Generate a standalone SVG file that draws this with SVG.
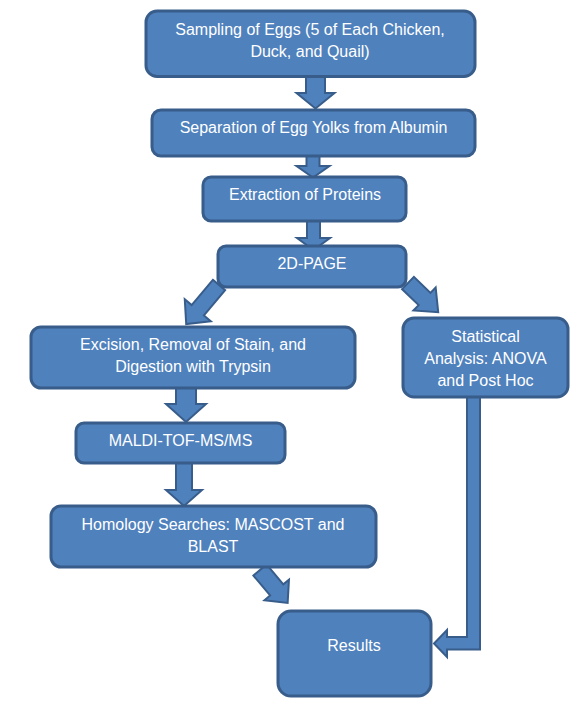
<svg xmlns="http://www.w3.org/2000/svg" width="583" height="705" viewBox="0 0 583 705">
<style>
.box{fill:#4F81BD;stroke:#385D8A;stroke-width:3}
.arr{fill:#4F81BD;stroke:#385D8A;stroke-width:2;stroke-linejoin:miter}
text{font-family:"Liberation Sans",Arial,sans-serif;font-size:16px;fill:#FFFFFF;text-anchor:middle}
</style>
<defs>
<polygon id="diagL" points="-8,0 8,0 8,33 17,33 0,51 -17,33 -8,33"/>
</defs>
<rect width="583" height="705" fill="#FFFFFF"/>
<g id="connectors">
<polygon class="arr" points="306,76 325,76 325,93 334.5,93 315.5,108.5 296.5,93 306,93"/>
<polygon class="arr" points="306.5,155 319.5,155 319.5,166 329.5,166 313,177.5 296.5,166 306.5,166"/>
<polygon class="arr" points="307,221 320,221 320,238 330,238 313.5,250 297,238 307,238"/>
<polygon class="arr" transform="translate(219,285) rotate(40)" points="-8,0 8,0 8,33 17,33 0,51 -17,33 -8,33"/>
<polygon class="arr" transform="translate(408,283) rotate(-46)" points="-8.5,0 8.5,0 8.5,23 16,23 0,42 -16,23 -8.5,23"/>
<polygon class="arr" points="176,388 196,388 196,404 206,404 186,422 166,404 176,404"/>
<polygon class="arr" points="176,463 192,463 192,490 202,490 184,506 166,490 176,490"/>
<polygon class="arr" transform="translate(260,570) rotate(-40)" points="-8.6,0 8.6,0 8.6,26 16,26 0,43 -16,26 -8.6,26"/>
<polygon class="arr" points="467,397 480,397 480,649.5 447,649.5 447,657 434,643.5 447,630 447,637 467,637"/>
</g>
<g id="n1">
<rect class="box" x="146" y="11" width="329" height="65.5" rx="11"/>
<text x="310" y="35">Sampling of Eggs (5 of Each Chicken,</text>
<text x="310" y="57">Duck, and Quail)</text>
</g>
<g id="n2">
<rect class="box" x="152" y="110" width="323" height="46" rx="9"/>
<text x="313.5" y="133">Separation of Egg Yolks from Albumin</text>
</g>
<g id="n3">
<rect class="box" x="203" y="177" width="203" height="44" rx="8"/>
<text x="305" y="200">Extraction of Proteins</text>
</g>
<g id="n4">
<rect class="box" x="218" y="246" width="188" height="41" rx="8"/>
<text x="312" y="269">2D-PAGE</text>
</g>
<g id="n5">
<rect class="box" x="31" y="327" width="324" height="61" rx="10"/>
<text x="193" y="350">Excision, Removal of Stain, and</text>
<text x="193" y="372">Digestion with Trypsin</text>
</g>
<g id="n6">
<rect class="box" x="403" y="318" width="165" height="79" rx="11"/>
<text x="485.5" y="342">Statistical</text>
<text x="485.5" y="364">Analysis: ANOVA</text>
<text x="485.5" y="386">and Post Hoc</text>
</g>
<g id="n7">
<rect class="box" x="76" y="423" width="209" height="40" rx="8"/>
<text x="180.5" y="446">MALDI-TOF-MS/MS</text>
</g>
<g id="n8">
<rect class="box" x="51" y="506" width="325" height="61" rx="10"/>
<text x="213" y="530">Homology Searches: MASCOST and</text>
<text x="213" y="552">BLAST</text>
</g>
<g id="n9">
<rect class="box" x="278" y="611" width="153" height="85" rx="13"/>
<text x="354" y="651">Results</text>
</g>
</svg>
